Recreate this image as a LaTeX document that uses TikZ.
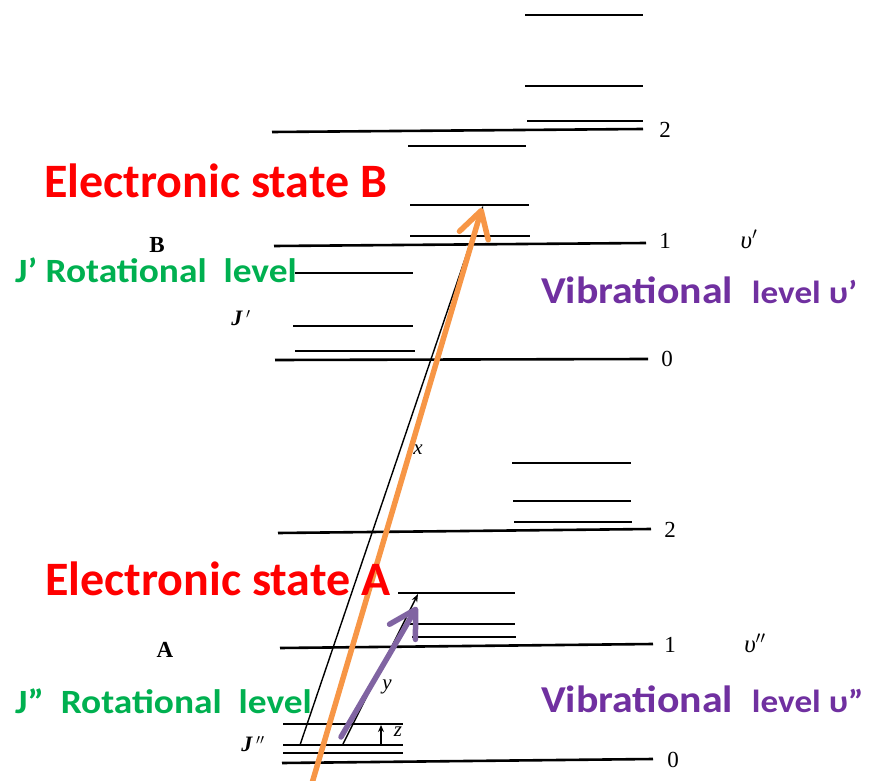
\documentclass[tikz,border=0pt]{standalone}
\usepackage{fontspec}
\setmainfont{Liberation Serif}
\newfontfamily\calib{Carlito}
\newfontfamily\calibw{Carlito}[FakeStretch=1.1]
\usetikzlibrary{arrows.meta}
\definecolor{lblred}{HTML}{FF0000}
\definecolor{lblgreen}{HTML}{00B050}
\definecolor{lblpurple}{HTML}{7030A0}
\definecolor{arrorange}{HTML}{F79646}
\definecolor{arrpurple}{HTML}{8064A2}
\begin{document}
\begin{tikzpicture}[x=1pt,y=-1pt,
  lvl/.style={line width=2.6pt},
  thinarr/.style={line width=1.4pt,-{Stealth[length=8pt,width=6pt]}},
  bigarr/.style={line width=5.5pt,line cap=round,-{Straight Barb[length=26pt,width=30pt,round]}},
  statelbl/.style={anchor=base west,inner sep=0pt,text=lblred,font=\calib\bfseries\fontsize{48}{50}\selectfont},
  rotlbl/.style={anchor=base west,inner sep=0pt,text=lblgreen,font=\calibw\bfseries\fontsize{34}{36}\selectfont},
  viblbl/.style={anchor=base west,inner sep=0pt,text=lblpurple,font=\calibw\bfseries\fontsize{38}{40}\selectfont},
  numlbl/.style={inner sep=0pt,font=\fontsize{23}{25}\selectfont},
  statelet/.style={inner sep=0pt,font=\bfseries\fontsize{23}{25}\selectfont},
  itlbl/.style={inner sep=0pt,font=\itshape\fontsize{21}{23}\selectfont}]
\useasboundingbox (0,0) rectangle (871,781);
% ---- upper electronic state B ----
\foreach \yy/\xa/\xb in {15/525/643, 86/525/643, 121/527/643, 146/408/526,
   205/410/529, 236/410/530, 273/295/413, 326/293/413, 351/295/415}
  \draw[lvl] (\xa,\yy) -- (\xb,\yy);
\draw[lvl] (272,132) -- (643,129);
\draw[lvl] (274,246) -- (646,243);
\draw[lvl] (275,360) -- (648,359);
% ---- lower electronic state A ----
\foreach \yy/\xa/\xb in {463/512/631, 501/513/631, 522/514/632, 593/398/515,
   624/410/515, 637/412/516, 724/283/403, 745/283/403, 753/283/403}
  \draw[lvl] (\xa,\yy) -- (\xb,\yy);
\draw[lvl] (278,533) -- (651,529);
\draw[lvl] (280,648) -- (653,644);
\draw[lvl] (282,763) -- (653,759);
% ---- level numbers ----
\node[numlbl] (n2u) at (665,130) {2};
\node[numlbl] (n1u) at (665,241) {1};
\node[numlbl] (n0u) at (667,359) {0};
\node[numlbl] (n2l) at (670,530) {2};
\node[numlbl] (n1l) at (670,645) {1};
\node[numlbl] (n0l) at (673,760) {0};
\node[statelet] (lB) at (157,245) {B};
\node[statelet] (lA) at (165,650) {A};
\node[itlbl,font=\bfseries\itshape\fontsize{22}{24}\selectfont] (jp) at (241,318) {J\,$'$};
\node[itlbl,font=\bfseries\itshape\fontsize{22}{24}\selectfont] (jpp) at (253,744) {J\,$''$};
\node[itlbl,font=\itshape\fontsize{25}{27}\selectfont] (vp) at (749,239) {υ$'$};
\node[itlbl,font=\itshape\fontsize{25}{27}\selectfont] (vpp) at (755,643) {υ$''$};
\node[itlbl] (lx) at (418,450) {x};
\node[itlbl] (ly) at (387,687) {y};
\node[itlbl] (lz) at (398,732) {z};
% ---- transitions ----
\coordinate (xs) at (300,745);
\coordinate (xe) at (483,206);
\coordinate (ys) at (343,744);
\coordinate (ye) at (418,594);
\coordinate (zs) at (381,744);
\coordinate (ze) at (381,725);
\draw[thinarr] (xs) -- (xe);
\draw[thinarr] (ys) -- (ye);
\draw[line width=1.3pt,-{Stealth[length=7pt,width=6pt]}] (zs) -- (ze);
\coordinate (os) at (310,790);
\coordinate (oe) at (482,208);
\coordinate (ps) at (341,737);
\coordinate (pe) at (417,607);
\draw[bigarr,draw=arrorange] (os) -- (oe);
\draw[bigarr,draw=arrpurple] (ps) -- (pe);
% ---- annotation labels ----
\node[statelbl] (esB) at (44,198) {Electronic state B};
\node[statelbl] (esA) at (45,595) {Electronic state A};
\node[rotlbl] (rotJp) at (15,282) {J’ Rotational\ \ level};
\node[rotlbl] (rotJpp) at (15,713) {J”\ \ Rotational\ \ level};
\node[viblbl] (vibp) at (541,303) {Vibrational\ \ {\fontsize{32}{34}\selectfont level υ’}};
\node[viblbl] (vibpp) at (541,712) {Vibrational\ \ {\fontsize{32}{34}\selectfont level υ”}};
\end{tikzpicture}
\end{document}
